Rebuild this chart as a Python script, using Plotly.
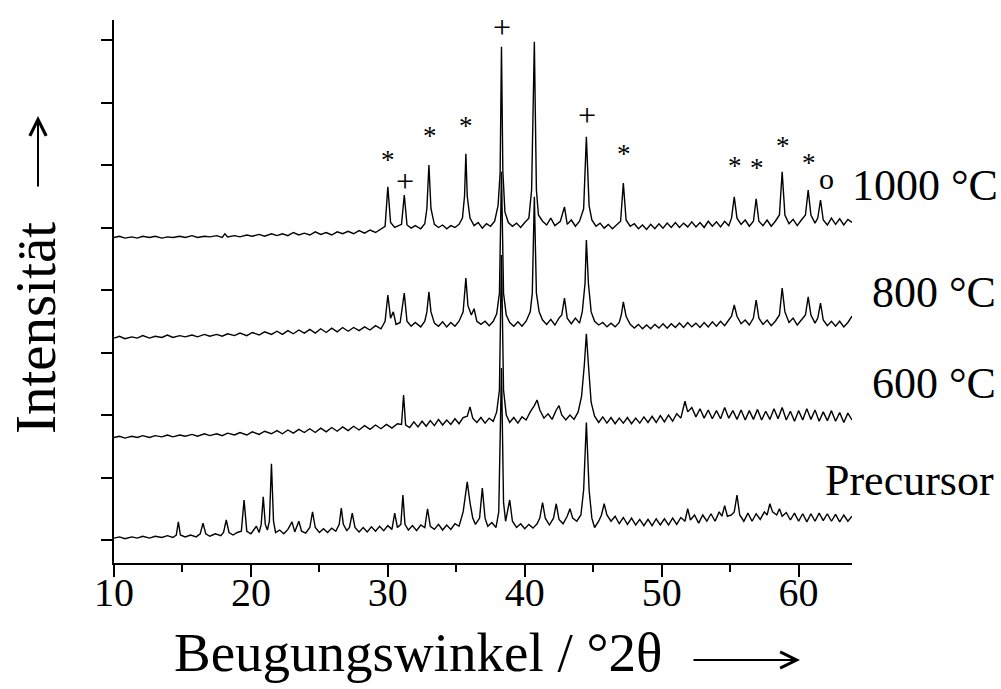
import plotly.graph_objects as go

# ---------------- data ----------------
# Diffraction angle (°2θ) and intensity (arbitrary units, stacked as drawn)
x_1000 = [10.0,10.4,10.8,11.3,11.7,12.1,12.6,13.0,13.5,13.9,14.3,14.8,15.2,15.7,16.1,16.6,17.0,17.5,17.9,18.1,18.3,18.8,19.2,19.7,20.1,20.6,21.0,21.5,21.9,22.3,22.7,23.1,23.5,23.9,24.3,24.7,25.1,25.5,25.9,26.3,26.7,27.1,27.5,27.9,28.3,28.7,29.1,29.5,29.8,30.0,30.2,30.5,30.8,31.0,31.2,31.4,31.7,32.0,32.4,32.7,32.85,33.0,33.15,33.4,33.7,34.0,34.3,34.6,34.9,35.2,35.45,35.6,35.7,35.8,36.0,36.3,36.6,36.9,37.2,37.5,37.8,38.05,38.2,38.3,38.4,38.55,38.8,39.1,39.4,39.7,40.0,40.3,40.5,40.7,40.85,41.0,41.3,41.6,41.9,42.2,42.6,42.9,43.1,43.4,43.7,44.0,44.3,44.5,44.7,44.9,45.2,45.5,45.8,46.1,46.4,46.7,47.0,47.2,47.4,47.7,48.0,48.3,48.6,48.9,49.2,49.5,49.8,50.1,50.4,50.7,51.0,51.3,51.6,51.9,52.2,52.5,52.8,53.1,53.4,53.7,54.0,54.3,54.6,54.9,55.1,55.3,55.5,55.8,56.1,56.4,56.7,56.9,57.1,57.4,57.7,58.0,58.3,58.6,58.8,59.0,59.3,59.6,59.9,60.2,60.5,60.7,60.9,61.2,61.4,61.6,61.8,62.1,62.4,62.7,63.0,63.3,63.6,63.9]
y_1000 = [4.84,4.86,4.83,4.85,4.83,4.86,4.84,4.86,4.83,4.85,4.84,4.86,4.84,4.87,4.84,4.86,4.85,4.87,4.84,4.90,4.85,4.87,4.85,4.88,4.86,4.89,4.86,4.90,4.87,4.90,4.87,4.92,4.88,4.91,4.88,4.93,4.89,4.92,4.88,4.93,4.90,4.94,4.90,4.95,4.91,4.96,4.92,4.97,5.02,5.65,5.08,5.00,5.03,5.05,5.52,5.04,4.99,5.03,4.98,5.06,5.30,6.00,5.30,5.05,5.00,5.04,4.98,5.03,5.00,5.05,5.15,5.50,6.18,5.50,5.15,5.03,5.08,4.99,5.06,5.02,5.10,5.35,5.87,7.89,5.90,5.25,5.08,5.02,5.07,5.00,5.08,5.15,5.60,7.97,5.60,5.20,5.10,5.04,5.15,5.03,5.10,5.33,5.05,5.12,5.02,5.10,5.30,6.45,5.35,5.12,5.02,5.07,4.99,5.05,4.98,5.04,5.10,5.71,5.12,5.02,5.06,4.98,5.04,4.97,5.05,4.98,5.06,4.99,5.07,5.00,5.08,5.00,5.07,5.01,5.09,5.01,5.08,5.00,5.10,5.02,5.09,5.01,5.10,5.03,5.15,5.49,5.15,5.05,5.12,5.02,5.10,5.46,5.10,5.03,5.12,5.02,5.10,5.20,5.89,5.20,5.06,5.13,5.03,5.12,5.20,5.60,5.20,5.07,5.15,5.44,5.12,5.04,5.15,5.05,5.14,5.04,5.13,5.08]

x_800 = [10.0,10.4,10.8,11.3,11.7,12.1,12.6,13.0,13.5,13.9,14.3,14.8,15.2,15.7,16.1,16.6,17.0,17.5,17.9,18.3,18.8,19.2,19.7,20.1,20.6,21.0,21.5,21.9,22.3,22.7,23.1,23.5,23.9,24.3,24.7,25.1,25.5,25.9,26.3,26.7,27.1,27.5,27.9,28.3,28.7,29.1,29.5,29.8,30.0,30.2,30.4,30.6,30.9,31.2,31.4,31.7,32.0,32.4,32.7,32.85,33.0,33.15,33.4,33.7,34.0,34.3,34.6,34.9,35.2,35.5,35.7,35.85,36.1,36.3,36.5,36.8,37.1,37.4,37.7,37.95,38.15,38.3,38.45,38.65,38.9,39.2,39.5,39.8,40.1,40.4,40.55,40.7,40.85,41.05,41.3,41.6,41.9,42.2,42.5,42.7,42.9,43.1,43.4,43.7,44.0,44.2,44.4,44.5,44.65,44.85,45.1,45.4,45.7,46.0,46.3,46.6,46.9,47.05,47.2,47.4,47.7,48.0,48.3,48.6,48.9,49.2,49.5,49.8,50.1,50.4,50.7,51.0,51.3,51.6,51.9,52.2,52.5,52.8,53.1,53.4,53.7,54.0,54.3,54.6,54.9,55.1,55.3,55.5,55.8,56.1,56.4,56.7,56.9,57.1,57.4,57.7,58.0,58.3,58.6,58.8,59.0,59.3,59.6,59.9,60.2,60.5,60.7,60.9,61.2,61.4,61.6,61.8,62.1,62.4,62.7,63.0,63.3,63.6,63.9]
y_800 = [3.23,3.26,3.22,3.25,3.23,3.27,3.23,3.26,3.24,3.28,3.24,3.27,3.25,3.28,3.25,3.29,3.26,3.29,3.26,3.30,3.27,3.31,3.27,3.32,3.28,3.33,3.29,3.34,3.29,3.35,3.30,3.36,3.31,3.37,3.31,3.38,3.32,3.39,3.33,3.40,3.34,3.40,3.35,3.41,3.36,3.43,3.38,3.50,3.92,3.55,3.65,3.45,3.48,3.95,3.50,3.42,3.48,3.41,3.50,3.65,3.97,3.65,3.47,3.42,3.49,3.41,3.48,3.42,3.50,3.65,4.19,3.75,3.60,3.70,3.50,3.45,3.50,3.43,3.50,3.62,3.95,5.89,3.95,3.60,3.48,3.42,3.49,3.42,3.50,3.65,3.95,5.49,3.95,3.65,3.52,3.45,3.53,3.44,3.55,3.60,3.87,3.55,3.46,3.55,3.47,3.65,4.10,4.80,4.10,3.65,3.50,3.44,3.48,3.41,3.47,3.41,3.48,3.60,3.81,3.58,3.45,3.39,3.45,3.38,3.44,3.38,3.45,3.39,3.46,3.39,3.46,3.40,3.47,3.40,3.48,3.41,3.47,3.40,3.48,3.41,3.49,3.42,3.50,3.43,3.52,3.58,3.76,3.58,3.46,3.52,3.44,3.55,3.84,3.55,3.45,3.52,3.43,3.50,3.60,4.03,3.65,3.48,3.55,3.44,3.52,3.60,3.89,3.60,3.47,3.55,3.79,3.52,3.43,3.50,3.42,3.50,3.41,3.48,3.58]

x_600 = [10.0,10.4,10.8,11.3,11.7,12.1,12.6,13.0,13.5,13.9,14.3,14.8,15.2,15.7,16.1,16.6,17.0,17.5,17.9,18.3,18.8,19.2,19.7,20.1,20.6,21.0,21.5,21.9,22.3,22.7,23.1,23.5,23.9,24.3,24.7,25.1,25.5,25.9,26.3,26.7,27.1,27.5,27.9,28.3,28.7,29.1,29.5,29.9,30.3,30.7,31.0,31.15,31.3,31.6,31.9,32.2,32.5,32.8,33.1,33.4,33.7,34.0,34.3,34.6,34.9,35.2,35.5,35.8,36.0,36.2,36.5,36.8,37.1,37.4,37.7,37.95,38.15,38.3,38.45,38.65,38.9,39.2,39.5,39.8,40.1,40.4,40.7,40.9,41.1,41.4,41.7,42.0,42.3,42.5,42.7,43.0,43.3,43.6,43.9,44.15,44.35,44.5,44.65,44.85,45.1,45.4,45.7,46.0,46.3,46.6,46.9,47.2,47.5,47.8,48.1,48.4,48.7,49.0,49.3,49.6,49.9,50.2,50.5,50.8,51.1,51.4,51.7,51.9,52.2,52.5,52.8,53.1,53.4,53.7,54.0,54.3,54.6,54.9,55.2,55.5,55.8,56.1,56.4,56.7,57.0,57.3,57.6,57.9,58.2,58.5,58.8,59.1,59.4,59.7,60.0,60.3,60.6,60.9,61.2,61.5,61.8,62.1,62.4,62.7,63.0,63.3,63.6,63.9]
y_600 = [1.64,1.66,1.63,1.66,1.64,1.67,1.64,1.67,1.65,1.68,1.65,1.68,1.66,1.69,1.66,1.70,1.67,1.70,1.67,1.71,1.68,1.72,1.68,1.73,1.69,1.74,1.70,1.75,1.70,1.76,1.71,1.77,1.72,1.78,1.72,1.79,1.73,1.80,1.74,1.81,1.75,1.82,1.76,1.83,1.77,1.84,1.78,1.85,1.79,1.86,1.85,2.32,1.84,1.80,1.89,1.81,1.90,1.82,1.91,1.83,1.93,1.84,1.92,1.85,1.94,1.86,1.96,1.98,2.13,1.95,1.88,1.96,1.87,1.95,1.90,2.05,2.40,4.56,2.40,2.00,1.88,1.96,1.87,1.97,1.92,2.05,2.15,2.24,2.08,1.95,2.02,1.93,2.08,2.15,2.00,1.92,2.00,1.93,2.05,2.30,2.80,3.30,2.80,2.20,1.98,1.88,1.97,1.87,1.96,1.86,1.95,1.87,1.96,1.86,1.95,1.87,1.97,1.88,1.98,1.88,1.99,1.89,2.00,1.90,2.02,1.95,2.22,2.05,2.12,1.97,2.10,1.95,2.08,1.94,2.07,1.94,2.12,1.95,2.07,1.93,2.08,1.92,2.07,1.93,2.09,1.92,2.06,1.93,2.10,1.94,2.12,1.92,2.06,1.90,2.07,1.92,2.10,1.93,2.08,1.90,2.05,1.91,2.07,1.90,2.04,1.88,2.03,1.92]

x_pre = [10.0,10.4,10.8,11.3,11.7,12.1,12.6,13.0,13.5,13.9,14.3,14.55,14.7,14.85,15.2,15.6,16.0,16.3,16.5,16.7,17.0,17.4,17.8,18.0,18.2,18.4,18.7,19.0,19.3,19.5,19.7,20.0,20.2,20.4,20.6,20.75,20.9,21.05,21.2,21.35,21.5,21.65,21.8,22.1,22.4,22.7,23.0,23.2,23.5,23.7,24.0,24.3,24.5,24.7,25.0,25.3,25.6,25.9,26.2,26.45,26.6,26.75,27.0,27.2,27.4,27.6,27.9,28.2,28.5,28.8,29.1,29.4,29.7,30.0,30.3,30.5,30.7,30.95,31.1,31.25,31.5,31.8,32.1,32.4,32.7,32.9,33.1,33.4,33.7,34.0,34.3,34.6,34.9,35.2,35.5,35.8,36.0,36.2,36.4,36.7,36.9,37.1,37.3,37.6,37.9,38.1,38.3,38.45,38.6,38.9,39.1,39.4,39.7,40.0,40.3,40.6,40.9,41.1,41.3,41.5,41.8,42.1,42.3,42.5,42.8,43.1,43.3,43.5,43.8,44.1,44.3,44.5,44.7,44.9,45.1,45.4,45.6,45.8,46.0,46.3,46.6,46.9,47.2,47.5,47.8,48.1,48.4,48.7,49.0,49.3,49.6,49.9,50.2,50.5,50.8,51.1,51.4,51.7,51.9,52.1,52.4,52.7,53.0,53.3,53.6,53.9,54.2,54.4,54.6,54.8,55.1,55.3,55.5,55.7,56.0,56.3,56.6,56.9,57.2,57.5,57.7,57.9,58.1,58.4,58.6,58.8,59.1,59.4,59.7,60.0,60.3,60.6,60.9,61.2,61.5,61.8,62.1,62.4,62.7,63.0,63.3,63.6,63.9]
y_pre = [0.03,0.05,0.02,0.05,0.03,0.06,0.03,0.06,0.04,0.07,0.04,0.08,0.29,0.08,0.05,0.08,0.05,0.10,0.27,0.10,0.06,0.10,0.07,0.12,0.32,0.12,0.08,0.12,0.14,0.64,0.14,0.10,0.16,0.22,0.12,0.25,0.69,0.25,0.16,0.30,1.22,0.30,0.12,0.16,0.10,0.17,0.29,0.13,0.30,0.14,0.11,0.20,0.45,0.20,0.12,0.18,0.12,0.19,0.14,0.25,0.51,0.25,0.15,0.20,0.43,0.20,0.13,0.20,0.13,0.21,0.14,0.22,0.15,0.23,0.17,0.43,0.20,0.25,0.72,0.25,0.16,0.23,0.15,0.24,0.20,0.50,0.22,0.17,0.25,0.16,0.24,0.17,0.26,0.22,0.45,0.93,0.60,0.35,0.25,0.35,0.83,0.35,0.22,0.28,0.20,0.45,2.75,0.60,0.30,0.64,0.30,0.20,0.26,0.18,0.25,0.19,0.26,0.35,0.60,0.35,0.24,0.35,0.58,0.33,0.26,0.38,0.50,0.35,0.30,0.40,0.80,1.88,0.80,0.35,0.20,0.30,0.40,0.58,0.40,0.30,0.38,0.26,0.36,0.25,0.35,0.24,0.33,0.23,0.33,0.23,0.34,0.24,0.34,0.24,0.35,0.25,0.36,0.30,0.50,0.32,0.40,0.27,0.40,0.30,0.42,0.30,0.45,0.38,0.55,0.38,0.40,0.45,0.72,0.40,0.30,0.43,0.30,0.42,0.33,0.45,0.40,0.58,0.45,0.40,0.50,0.38,0.44,0.32,0.43,0.30,0.42,0.29,0.42,0.30,0.43,0.31,0.42,0.30,0.41,0.29,0.40,0.30,0.38]

series_x = [x_pre, x_600, x_800, x_1000]
series_y = [y_pre, y_600, y_800, y_1000]
series_names = ["Precursor", "600 °C", "800 °C", "1000 °C"]

# phase markers above the 1000 °C pattern: (angle, height, symbol)
marker_angles = [30.0, 31.24, 33.07, 35.69, 38.32, 40.66, 44.53, 47.23, 55.33, 56.93, 58.83, 60.73, 62.05]
marker_heights = [6.08, 5.74, 6.46, 6.62, 8.21, 8.40, 6.80, 6.18, 5.98, 5.95, 6.30, 6.03, 5.78]
marker_symbols = ["*", "+", "*", "*", "+", "*", "+", "*", "*", "*", "*", "*", "o"]

x_ticks = [10, 20, 30, 40, 50, 60]
x_minor = [15, 25, 35, 45, 55]
y_ticks = [0, 1, 2, 3, 4, 5, 6, 7, 8]

FONT = "Liberation Serif"
PL, PT, PW, PH = 114, 20, 738, 543   # plot area in pixels


def px(xp):
    return (xp - PL) / PW


def py(yp):
    return (PT + PH - yp) / PH


fig = go.Figure()
for xs, ys, nm in zip(series_x, series_y, series_names):
    fig.add_trace(go.Scatter(x=xs, y=ys, mode="lines", name=nm,
                             line=dict(color="black", width=1.4), showlegend=False))

ann = []
sym_size = {"*": 27, "+": 32, "o": 30}
for a, h, s in zip(marker_angles, marker_heights, marker_symbols):
    ann.append(dict(x=a, y=h, xref="x", yref="y", text=s, showarrow=False,
                    font=dict(family=FONT, size=sym_size[s], color="black"),
                    xanchor="center", yanchor="middle"))

# series labels at the right-hand side (pixel positions of their left edge / centre)
label_px = [(823, 481), (870, 383), (870, 292), (850, 185)]
for (lx, ly), nm in zip(label_px, series_names):
    ann.append(dict(x=px(lx), y=py(ly), xref="paper", yref="paper", text=nm,
                    showarrow=False, font=dict(family=FONT, size=44, color="black"),
                    xanchor="left", yanchor="middle"))

# axis titles with their arrows
ann.append(dict(x=px(172), y=py(652), xref="paper", yref="paper",
                text="Beugungswinkel / °2θ", showarrow=False,
                font=dict(family=FONT, size=55, color="black"),
                xanchor="left", yanchor="middle"))
ann.append(dict(x=px(800), y=py(660), xref="paper", yref="paper", text="",
                showarrow=True, ax=-108, ay=0, arrowhead=5, arrowsize=1.6,
                arrowwidth=2, arrowcolor="black"))
ann.append(dict(x=px(35), y=py(328), xref="paper", yref="paper",
                text="Intensität", showarrow=False, textangle=-90,
                font=dict(family=FONT, size=57, color="black"),
                xanchor="center", yanchor="middle"))
ann.append(dict(x=px(38), y=py(116), xref="paper", yref="paper", text="",
                showarrow=True, ax=0, ay=72, arrowhead=5, arrowsize=1.6,
                arrowwidth=2, arrowcolor="black"))

fig.update_layout(
    width=1001, height=689,
    margin=dict(l=114, r=149, t=20, b=126),
    paper_bgcolor="white", plot_bgcolor="white",
    annotations=ann,
    font=dict(family=FONT, color="black"),
)
fig.update_xaxes(range=[10, 63.9], tickvals=x_ticks, ticktext=[str(t) for t in x_ticks],
                 ticks="outside", ticklen=12, tickwidth=2, tickcolor="black",
                 minor=dict(tickvals=x_minor, ticks="outside", ticklen=7,
                            tickwidth=2, tickcolor="black"),
                 ticklabelstandoff=-19,
                 showline=True, linewidth=2, linecolor="black",
                 showgrid=False, zeroline=False,
                 tickfont=dict(family=FONT, size=40, color="black"))
fig.update_yaxes(range=[-0.368, 8.32], tickvals=y_ticks, showticklabels=False,
                 ticks="outside", ticklen=11, tickwidth=2, tickcolor="black",
                 showline=True, linewidth=2, linecolor="black",
                 showgrid=False, zeroline=False)

fig.write_html("out.html")
